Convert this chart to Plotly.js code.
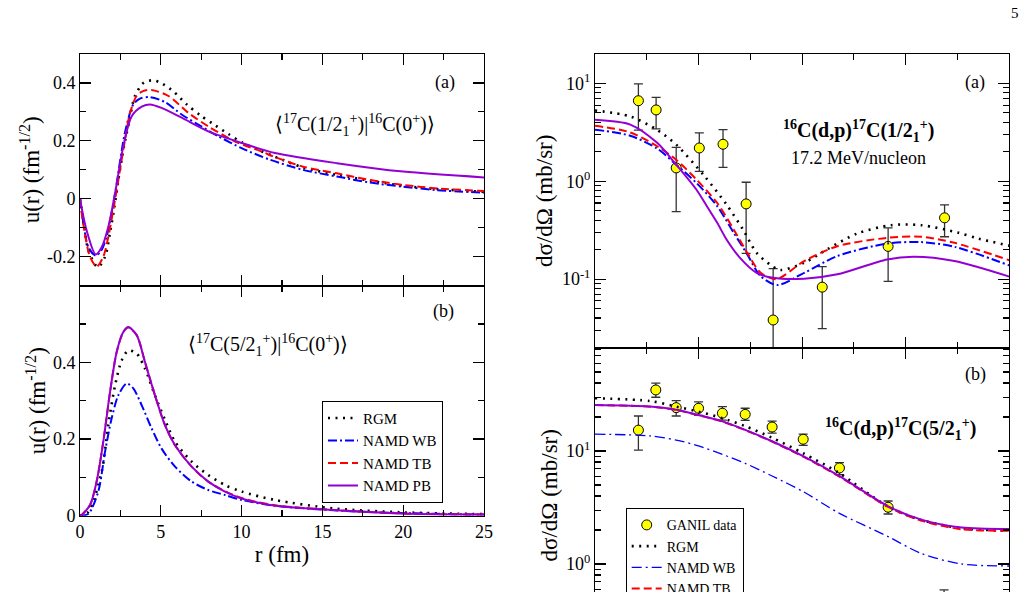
<!DOCTYPE html>
<html><head><meta charset="utf-8">
<script src="https://cdn.plot.ly/plotly-3.0.1.min.js"></script>
<style>html,body{margin:0;padding:0;overflow:hidden;background:#fff;width:1027px;height:592px}#chart{width:1027px;height:660px}</style>
</head><body><div id="chart"></div>
<script>
// ---------- Left panel (a): <17C(1/2+)|16C(0+)> overlap, u(r) vs r (fm)
const rRGM_a = [0, 0.25, 0.52, 1.1, 1.55, 1.86, 2.13, 2.37, 2.72, 3.05, 3.4, 3.96, 4.48, 4.99, 5.82, 6.6, 7.43, 8.25, 9.18, 10.07, 11.03, 12.03, 13.8, 15.9, 18, 20, 22, 25];
const uRGM_a = [0, -0.09, -0.178, -0.236, -0.2, -0.115, -0.028, 0.065, 0.181, 0.268, 0.355, 0.402, 0.409, 0.401, 0.369, 0.326, 0.289, 0.258, 0.224, 0.193, 0.169, 0.146, 0.108, 0.083, 0.062, 0.045, 0.034, 0.024];
const rWB_a = [0, 0.2, 0.52, 0.97, 1.3, 1.65, 2.17, 2.78, 3.3, 3.71, 4.33, 5.26, 6.29, 7.32, 8.56, 10, 11.76, 13.8, 15.9, 17.95, 20, 22.1, 25];
const uWB_a = [0, -0.08, -0.167, -0.196, -0.18, -0.13, 0.019, 0.228, 0.326, 0.346, 0.351, 0.334, 0.291, 0.256, 0.216, 0.175, 0.135, 0.1, 0.077, 0.056, 0.042, 0.03, 0.021];
const rTB_a = [0, 0.2, 0.62, 1.03, 1.44, 1.75, 2.27, 2.68, 3.1, 3.5, 3.9, 4.43, 5.47, 6.7, 7.94, 9.6, 11.24, 12.07, 13.8, 15.9, 17.95, 20, 22.1, 25];
const uTB_a = [0, -0.086, -0.2, -0.234, -0.2, -0.132, 0.03, 0.169, 0.297, 0.355, 0.372, 0.376, 0.355, 0.297, 0.25, 0.198, 0.163, 0.144, 0.111, 0.088, 0.065, 0.048, 0.036, 0.027];
const rPB_a = [0, 0.41, 0.97, 1.34, 1.75, 2.17, 2.68, 3.2, 3.82, 4.33, 5.05, 6.29, 7.94, 10, 12.07, 15.9, 20, 25];
const uPB_a = [0, -0.109, -0.192, -0.167, -0.097, 0.019, 0.181, 0.285, 0.318, 0.326, 0.314, 0.28, 0.233, 0.193, 0.158, 0.123, 0.094, 0.074];

// ---------- Left panel (b): <17C(5/2+)|16C(0+)>
const rRGM_b = [0, 0.52, 1.34, 1.75, 2.17, 2.58, 2.99, 3.51, 4.02, 4.64, 5.26, 5.88, 6.91, 7.94, 8.97, 10, 12.07, 15.7, 19.8, 25];
const uRGM_b = [0, 0.01, 0.115, 0.236, 0.34, 0.405, 0.431, 0.423, 0.384, 0.314, 0.25, 0.193, 0.141, 0.106, 0.08, 0.063, 0.041, 0.019, 0.009, 0.004];
const rWB_b = [0, 0.52, 1.13, 1.55, 1.96, 2.37, 2.89, 3.3, 3.82, 4.43, 5.05, 5.88, 6.91, 7.94, 8.97, 10, 12.07, 15.7, 19.8, 25];
const uWB_b = [0, 0.005, 0.063, 0.167, 0.254, 0.314, 0.345, 0.332, 0.288, 0.228, 0.175, 0.128, 0.089, 0.067, 0.054, 0.041, 0.026, 0.014, 0.007, 0.003];
const rTB_b = [0, 0.1, 0.62, 1.03, 1.44, 1.86, 2.27, 2.68, 2.99, 3.51, 4.02, 4.64, 5.26, 5.88, 6.91, 7.94, 8.97, 10, 12.07, 15.7, 19.8, 25];
const uTB_b = [0, 0.002, 0.028, 0.089, 0.193, 0.323, 0.427, 0.479, 0.491, 0.471, 0.401, 0.314, 0.236, 0.184, 0.128, 0.089, 0.064, 0.046, 0.027, 0.015, 0.006, 0.003];
const rPB_b = [0, 0.1, 0.62, 1.03, 1.44, 1.86, 2.27, 2.68, 2.99, 3.51, 4.02, 4.64, 5.26, 5.88, 6.91, 7.94, 8.97, 10, 12.07, 15.7, 19.8, 25];
const uPB_b = [0, 0.002, 0.028, 0.089, 0.193, 0.323, 0.427, 0.479, 0.492, 0.471, 0.401, 0.314, 0.236, 0.184, 0.128, 0.089, 0.063, 0.045, 0.026, 0.015, 0.006, 0.003];

// ---------- Right panel (a): 16C(d,p)17C(1/2+) dσ/dΩ (mb/sr) vs θ
const thData_a = [4.19, 5.9, 7.84, 10.07, 12.36, 14.59, 17.2, 21.94, 28.3, 33.75];
const sgData_a = [6.66, 5.36, 1.37, 2.19, 2.39, 0.587, 0.0382, 0.0828, 0.216, 0.423];
const sgHi_a   = [9.9, 7.2, 2.22, 3.12, 3.37, 0.977, 0.128, 0.134, 0.334, 0.574];
const sgLo_a   = [3.34, 3.43, 0.49, 1.26, 1.39, 0.183, 0.005, 0.0312, 0.095, 0.271];
const thRGM_a = [0, 3.4, 5.9, 7.84, 10.6, 12.7, 14.3, 15.6, 17.1, 17.9, 20.2, 22.4, 25.3, 28.6, 31.5, 35, 37, 40];
const sgRGM_a = [5.3, 4.6, 3.4, 2.37, 1.12, 0.578, 0.32, 0.186, 0.136, 0.124, 0.147, 0.201, 0.292, 0.356, 0.356, 0.3, 0.26, 0.22];
const thWB_a = [0, 3.4, 6, 7.84, 9.8, 11.8, 13.4, 14.7, 16, 17.6, 20.2, 23.4, 28.2, 31.5, 34.7, 40];
const sgWB_a = [3.37, 2.92, 2.16, 1.48, 0.96, 0.556, 0.297, 0.179, 0.107, 0.087, 0.116, 0.172, 0.231, 0.239, 0.214, 0.138];
const thTB_a = [0, 3.4, 6, 7.84, 9.8, 11.8, 13.4, 14.7, 16, 17.5, 20.2, 23.4, 28.2, 31.5, 34.7, 40];
const sgTB_a = [3.7, 3.16, 2.28, 1.66, 1.04, 0.6, 0.32, 0.186, 0.116, 0.1, 0.153, 0.217, 0.264, 0.271, 0.235, 0.156];
const thPB_a = [0, 3.4, 6, 7.84, 9.8, 10.8, 11.8, 12.7, 14, 15.6, 17.2, 20.2, 23.4, 28.2, 30.8, 34.7, 40];
const sgPB_a = [4.26, 3.8, 2.47, 1.48, 0.82, 0.556, 0.376, 0.254, 0.165, 0.116, 0.103, 0.101, 0.112, 0.159, 0.169, 0.153, 0.106];

// ---------- Right panel (b): 16C(d,p)17C(5/2+)
const thData_b = [4.19, 5.87, 7.84, 10.0, 12.3, 14.5, 17.1, 20.1, 23.6, 28.3, 33.7];
const sgData_b = [15.3, 34.7, 24.2, 23.9, 21.6, 21.1, 16.3, 12.7, 7.08, 3.18, 0.42];
const sgHi_b   = [20.4, 39.8, 27.9, 27.2, 24.7, 23.9, 18.4, 14.1, 7.89, 3.61, 0.59];
const sgLo_b   = [10.2, 29.9, 20.4, 20.7, 18.8, 18.7, 14.4, 11.2, 6.17, 2.77, 0.28];
const thRGM_b = [0, 5.3, 7.84, 10, 12.3, 14.5, 17.1, 20.1, 23.6, 28.3, 31.5, 35.4, 40];
const sgRGM_b = [29.3, 27.7, 24.7, 22.3, 19.5, 16.6, 13.1, 9.55, 6.36, 3.22, 2.45, 2.07, 1.97];
const thWB_b = [0, 5.3, 7.84, 10, 12.3, 14.5, 17.1, 20.1, 23.6, 28.3, 31.5, 35.4, 40];
const sgWB_b = [14.1, 13.6, 12.5, 11.1, 9.34, 7.78, 6.01, 4.37, 2.81, 1.75, 1.24, 1.0, 0.96];
const thTB_b = [0, 5.3, 7.84, 10, 12.3, 14.5, 17.1, 20.1, 23.6, 28.3, 31.5, 35.4, 40];
const sgTB_b = [25.5, 24.7, 23.1, 20.7, 18.2, 15.3, 12.1, 8.91, 5.93, 3.2, 2.42, 2.03, 1.97];
const thPB_b = [0, 5.3, 7.84, 10, 12.3, 14.5, 17.1, 20.1, 23.6, 28.3, 31.5, 35.4, 40];
const sgPB_b = [25.6, 24.8, 23.2, 20.8, 18.3, 15.4, 12.2, 9.0, 6.0, 3.24, 2.47, 2.1, 2.04];

// ---------- tick labels
const leftATickVals = [-0.2, 0, 0.2, 0.4];
const leftATickText = ['-0.2', '0', '0.2', '0.4'];
const leftBTickVals = [0, 0.2, 0.4];
const leftBTickText = ['0', '0.2', '0.4'];
const logTickVals = [0.1, 1, 10];
const logTickText = ['10<sup>-1</sup>', '10<sup>0</sup>', '10<sup>1</sup>'];
const logMinorVals = [0.02,0.03,0.04,0.05,0.06,0.07,0.08,0.09,0.2,0.3,0.4,0.5,0.6,0.7,0.8,0.9,2,3,4,5,6,7,8,9,20,30,40,50,60,70,80,90];

// ---------- styling
const W = 1027, H = 660;
const fx = v => v / W, fy = v => 1 - v / H;
const FONT = 'Liberation Serif';
const styles = {
  'RGM':     {color: '#000000', width: 2.6, dash: '2px,5.5px'},
  'NAMD WB': {color: '#0000ff', width: 2, dash: '9px,3px,2px,3px'},
  'NAMD TB': {color: '#ff0000', width: 2, dash: '8px,4px'},
  'NAMD PB': {color: '#9400d3', width: 2, dash: 'solid'}
};
function curve(name, x, y, xa, ya, showLeg, legend, widthOverride, dashOverride) {
  const s = styles[name];
  return {x: x, y: y, xaxis: xa, yaxis: ya, type: 'scatter', mode: 'lines', name: name,
    line: {color: s.color, width: widthOverride || s.width, dash: dashOverride || s.dash, shape: 'spline', smoothing: 0.8},
    showlegend: showLeg, legend: legend, hoverinfo: 'skip'};
}
function dataTrace(x, y, hi, lo, xa, ya, showLeg) {
  return {x: x, y: y, xaxis: xa, yaxis: ya, type: 'scatter', mode: 'markers', name: 'GANIL data',
    marker: {color: '#ffff00', size: 10, line: {color: '#000', width: 1}},
    error_y: {type: 'data', symmetric: false, array: hi.map((h, i) => h - y[i]), arrayminus: lo.map((l, i) => y[i] - l),
      color: '#333', thickness: 1.3, width: 4.5},
    showlegend: showLeg, legend: 'legend2', hoverinfo: 'skip'};
}

const traces = [
  curve('RGM', rRGM_a, uRGM_a, 'x', 'y', false, 'legend'),
  curve('NAMD WB', rWB_a, uWB_a, 'x', 'y', false, 'legend'),
  curve('NAMD TB', rTB_a, uTB_a, 'x', 'y', false, 'legend'),
  curve('NAMD PB', rPB_a, uPB_a, 'x', 'y', false, 'legend'),
  curve('RGM', rRGM_b, uRGM_b, 'x2', 'y2', true, 'legend'),
  curve('NAMD WB', rWB_b, uWB_b, 'x2', 'y2', true, 'legend'),
  curve('NAMD TB', rTB_b, uTB_b, 'x2', 'y2', true, 'legend'),
  curve('NAMD PB', rPB_b, uPB_b, 'x2', 'y2', true, 'legend'),
  dataTrace(thData_a, sgData_a, sgHi_a, sgLo_a, 'x3', 'y3', false),
  curve('RGM', thRGM_a, sgRGM_a, 'x3', 'y3', false, 'legend2'),
  curve('NAMD WB', thWB_a, sgWB_a, 'x3', 'y3', false, 'legend2'),
  curve('NAMD TB', thTB_a, sgTB_a, 'x3', 'y3', false, 'legend2'),
  curve('NAMD PB', thPB_a, sgPB_a, 'x3', 'y3', false, 'legend2'),
  dataTrace(thData_b, sgData_b, sgHi_b, sgLo_b, 'x4', 'y4', true),
  curve('RGM', thRGM_b, sgRGM_b, 'x4', 'y4', true, 'legend2'),
  curve('NAMD WB', thWB_b, sgWB_b, 'x4', 'y4', true, 'legend2', 1.3, '10px,4px,2px,4px'),
  curve('NAMD TB', thTB_b, sgTB_b, 'x4', 'y4', true, 'legend2'),
  curve('NAMD PB', thPB_b, sgPB_b, 'x4', 'y4', true, 'legend2')
];

const tickFont = {family: FONT, size: 18, color: '#000'};
const titleFont = {family: FONT, size: 23, color: '#000'};
function baseAxis(extra) {
  return Object.assign({
    showline: true, linecolor: '#000', linewidth: 1, mirror: 'allticks',
    ticks: 'inside', ticklen: 11, tickwidth: 1.2, tickcolor: '#000',
    showgrid: false, zeroline: false, tickfont: tickFont, fixedrange: true
  }, extra);
}
function minorLin(extra) {
  return Object.assign({ticks: 'inside', ticklen: 6, tickcolor: '#000', tickwidth: 1.1, showgrid: false}, extra);
}
const xLeft = [fx(80), fx(484)], xRight = [fx(595), fx(1009.3)];
function ann(text, x, y, size, extra) {
  return Object.assign({text: text, x: fx(x), y: fy(y), xref: 'paper', yref: 'paper', xanchor: 'center', yanchor: 'middle',
    showarrow: false, font: {family: FONT, size: size, color: '#000'}}, extra || {});
}

const layout = {
  width: W, height: H,
  margin: {l: 0, r: 0, t: 0, b: 0},
  paper_bgcolor: '#fff', plot_bgcolor: '#fff',
  font: {family: FONT, size: 16, color: '#000'},
  xaxis: baseAxis({domain: xLeft, anchor: 'y', range: [0, 25], dtick: 5, showticklabels: false,
    minor: minorLin({dtick: 2.5})}),
  yaxis: baseAxis({domain: [fy(285.7), fy(54)], anchor: 'x', range: [-0.3, 0.5], tickmode: 'array',
    tickvals: leftATickVals, ticktext: leftATickText,
    minor: minorLin({tickmode: 'array', tickvals: [-0.3, -0.1, 0.1, 0.3]}),
    title: {text: 'u(r) (fm<sup>-1/2</sup>)', font: titleFont, standoff: 0}}),
  xaxis2: baseAxis({domain: xLeft, anchor: 'y2', range: [0, 25], dtick: 5,
    minor: minorLin({dtick: 2.5}),
    title: {text: 'r (fm)', font: titleFont, standoff: 4}}),
  yaxis2: baseAxis({domain: [fy(515.7), fy(285.7)], anchor: 'x2', range: [0, 0.6], tickmode: 'array',
    tickvals: leftBTickVals, ticktext: leftBTickText,
    minor: minorLin({tickmode: 'array', tickvals: [0.1, 0.3, 0.5]}),
    title: {text: 'u(r) (fm<sup>-1/2</sup>)', font: titleFont, standoff: 0}}),
  xaxis3: baseAxis({domain: xRight, anchor: 'y3', range: [0, 40], dtick: 10, showticklabels: false,
    minor: minorLin({dtick: 5})}),
  yaxis3: baseAxis({domain: [fy(347.5), fy(54)], anchor: 'x3', type: 'log', range: [Math.log10(0.02), Math.log10(20)],
    tickmode: 'array', tickvals: logTickVals, ticktext: logTickText,
    minor: minorLin({tickmode: 'array', tickvals: logMinorVals}),
    title: {text: 'dσ/dΩ (mb/sr)', font: titleFont, standoff: 2}}),
  xaxis4: baseAxis({domain: xRight, anchor: 'y4', range: [0, 40], dtick: 10, showticklabels: false,
    minor: minorLin({dtick: 5})}),
  yaxis4: baseAxis({domain: [fy(643), fy(347.5)], anchor: 'x4', type: 'log', range: [Math.log10(0.2), 1.916],
    tickmode: 'array', tickvals: logTickVals, ticktext: logTickText,
    minor: minorLin({tickmode: 'array', tickvals: logMinorVals}),
    title: {text: 'dσ/dΩ (mb/sr)', font: titleFont, standoff: 2}}),
  legend: {x: fx(322), y: fy(400.7), xanchor: 'left', yanchor: 'top', bgcolor: '#fff', bordercolor: '#000', borderwidth: 1,
    font: {family: FONT, size: 15, color: '#000'}, tracegroupgap: 0, itemwidth: 30},
  legend2: {x: fx(625.7), y: fy(508.3), xanchor: 'left', yanchor: 'top', bgcolor: '#fff', bordercolor: '#000', borderwidth: 1,
    font: {family: FONT, size: 14, color: '#000'}, tracegroupgap: 0, itemwidth: 30},
  annotations: [
    ann('(a)', 445, 82, 18),
    ann('⟨<sup>17</sup>C(1/2<sub>1</sub><sup>+</sup>)|<sup>16</sup>C(0<sup>+</sup>)⟩', 355, 125, 20),
    ann('(b)', 443, 312, 18),
    ann('⟨<sup>17</sup>C(5/2<sub>1</sub><sup>+</sup>)|<sup>16</sup>C(0<sup>+</sup>)⟩', 268, 345, 20),
    ann('(a)', 975, 83, 18),
    ann('<b><sup>16</sup>C(d,p)<sup>17</sup>C(1/2<sub>1</sub><sup>+</sup>)</b>', 858, 131, 20),
    ann('17.2 MeV/nucleon', 858, 158, 18),
    ann('(b)', 975, 374, 18),
    ann('<b><sup>16</sup>C(d,p)<sup>17</sup>C(5/2<sub>1</sub><sup>+</sup>)</b>', 900, 429, 20),
    ann('5', 1015, 13, 15)
  ]
};

Plotly.newPlot('chart', traces, layout, {staticPlot: true, displayModeBar: false});
</script></body></html>
